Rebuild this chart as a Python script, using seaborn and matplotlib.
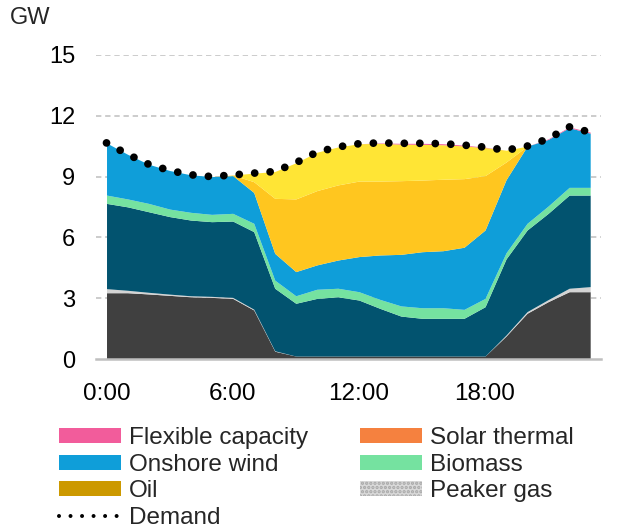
#!/usr/bin/env python3

import numpy as np
import seaborn as sns
import matplotlib.pyplot as plt
from matplotlib.patches import Patch
from matplotlib.lines import Line2D
from matplotlib.ticker import FixedLocator

sns.set_theme(style="white")
plt.rcParams["font.family"] = ["Liberation Sans", "DejaVu Sans"]
plt.rcParams["hatch.linewidth"] = 1.6

# hourly dispatch, GW (hours 0..23)
hours = np.arange(24)
tick_hours = [0, 6, 12, 18]
tick_labels = ["0:00", "6:00", "12:00", "18:00"]

coal = [3.28, 3.28, 3.22, 3.15, 3.08, 3.05, 3.00, 2.43, 0.40, 0.16, 0.16, 0.16,
        0.16, 0.16, 0.16, 0.16, 0.16, 0.16, 0.16, 1.15, 2.27, 2.84, 3.33, 3.33]
peaker_gas = [0.20, 0.12, 0.08, 0.06, 0.05, 0.05, 0.05, 0.04, 0.02, 0, 0, 0,
              0, 0, 0, 0, 0, 0, 0, 0.05, 0.08, 0.10, 0.17, 0.25]
ccgt = [4.20, 4.11, 3.97, 3.82, 3.73, 3.68, 3.76, 3.82, 3.08, 2.60, 2.84, 2.92,
        2.76, 2.35, 1.97, 1.86, 1.86, 1.86, 2.43, 3.75, 4.02, 4.25, 4.59, 4.51]
biomass = [0.41, 0.39, 0.41, 0.37, 0.38, 0.36, 0.38, 0.41, 0.40, 0.37, 0.45, 0.42,
           0.41, 0.44, 0.50, 0.52, 0.52, 0.44, 0.41, 0.30, 0.33, 0.36, 0.38, 0.38]
onshore_wind = [2.57, 2.20, 1.93, 1.90, 1.85, 1.86, 1.86, 1.52, 1.32, 1.19, 1.20, 1.39,
                1.73, 2.19, 2.54, 2.76, 2.81, 3.06, 3.37, 3.60, 3.80, 3.28, 2.94, 2.67]
solar_utility = [0, 0, 0, 0, 0, 0, 0.03, 0.53, 2.71, 3.58, 3.66, 3.70,
                 3.72, 3.64, 3.63, 3.53, 3.52, 3.38, 2.68, 0.87, 0, 0, 0, 0]
solar_rooftop = [0, 0, 0, 0, 0, 0, 0, 0.42, 1.32, 1.78, 1.89, 1.87,
                 1.84, 1.86, 1.80, 1.76, 1.70, 1.61, 1.38, 0.58, 0, 0, 0, 0]
flexible = [0, 0, 0, 0, 0, 0, 0, 0, 0, 0, 0, 0,
            0, 0.02, 0.04, 0.05, 0.05, 0.04, 0.02, 0, 0, 0.03, 0.04, 0.05]
demand = [10.66, 10.10, 9.61, 9.30, 9.09, 9.00, 9.08, 9.17, 9.25, 9.68, 10.20, 10.46,
          10.62, 10.66, 10.64, 10.64, 10.62, 10.55, 10.45, 10.30, 10.50, 10.86, 11.45, 11.19]

colors = {
    "coal": "#404040",
    "peaker": "#D4D4D4",
    "ccgt": "#02536F",
    "biomass": "#75E2A0",
    "wind": "#0F9ED9",
    "solar_utility": "#FFC61F",
    "solar_rooftop": "#FFE535",
    "flexible": "#F25C9B",
    "solar_thermal": "#F5813F",
    "oil": "#CC9900",
}

FS = 17.5

fig = plt.figure(figsize=(6.22, 5.31), dpi=100)
ax = fig.add_axes([96 / 622, 1 - 359.3 / 531, 504.7 / 622, 304.5 / 531])

grid_c = "#BFBFBF"
for yv in [3, 6, 9, 12, 15]:
    ax.axhline(yv, color=grid_c, lw=1.1, dashes=(3.5, 2.5), zorder=0)

ax.stackplot(
    hours,
    coal, peaker_gas, ccgt, biomass, onshore_wind, solar_utility, solar_rooftop, flexible,
    colors=[colors["coal"], colors["peaker"], colors["ccgt"], colors["biomass"],
            colors["wind"], colors["solar_utility"], colors["solar_rooftop"], colors["flexible"]],
    lw=0, zorder=2,
)

sns.lineplot(
    x=hours, y=demand, ax=ax, color="black", lw=5.6,
    linestyle=(0, (0.001, 1.99)), dash_capstyle="round", zorder=3, clip_on=False,
)

ax.set_xlim(-0.5, 23.5)
ax.set_ylim(0, 15)
ax.set_yticks([0, 3, 6, 9, 12, 15])
ax.set_xticks(tick_hours)
ax.set_xticklabels(tick_labels)
ax.xaxis.set_minor_locator(FixedLocator(np.arange(-0.5, 24, 1)))
ax.tick_params(axis="y", length=0, pad=15, labelsize=17, labelcolor="black")
ax.tick_params(axis="x", which="major", length=0, pad=17, labelsize=FS, labelcolor="black")
ax.tick_params(axis="x", which="minor", length=5, width=1.4, color=grid_c, direction="out")
ax.set_xlabel("")
ax.set_ylabel("")

for s in ["top", "right", "left"]:
    ax.spines[s].set_visible(False)
ax.spines["bottom"].set_color(grid_c)
ax.spines["bottom"].set_linewidth(1.8)
ax.spines["bottom"].set_zorder(4)

fig.text(10 / 622, 1 - 18 / 531, "GW", fontsize=17, va="center", ha="left")

handles = [
    Patch(facecolor=colors["flexible"], lw=0),
    Patch(facecolor=colors["wind"], lw=0),
    Patch(facecolor=colors["oil"], lw=0),
    Line2D([0], [0], color="black", lw=2.9, linestyle=(0, (0.001, 2.86)),
           dash_capstyle="round"),
    Patch(facecolor=colors["solar_thermal"], lw=0),
    Patch(facecolor=colors["biomass"], lw=0),
    Patch(facecolor="#D9D9D9", edgecolor="#A8A8A8", hatch="....", lw=0),
]
labels = ["Flexible capacity", "Onshore wind", "Oil", "Demand",
          "Solar thermal", "Biomass", "Peaker gas"]
ax.legend(
    handles, labels, ncol=2, loc="upper left",
    bbox_to_anchor=(59 / 622, 1 - 427 / 531), bbox_transform=fig.transFigure,
    frameon=False, borderpad=0, borderaxespad=0, fontsize=FS,
    handlelength=2.55, handleheight=0.57, handletextpad=0.33,
    columnspacing=2.14, labelspacing=0.19,
)

plt.savefig("out.png", dpi=100)
